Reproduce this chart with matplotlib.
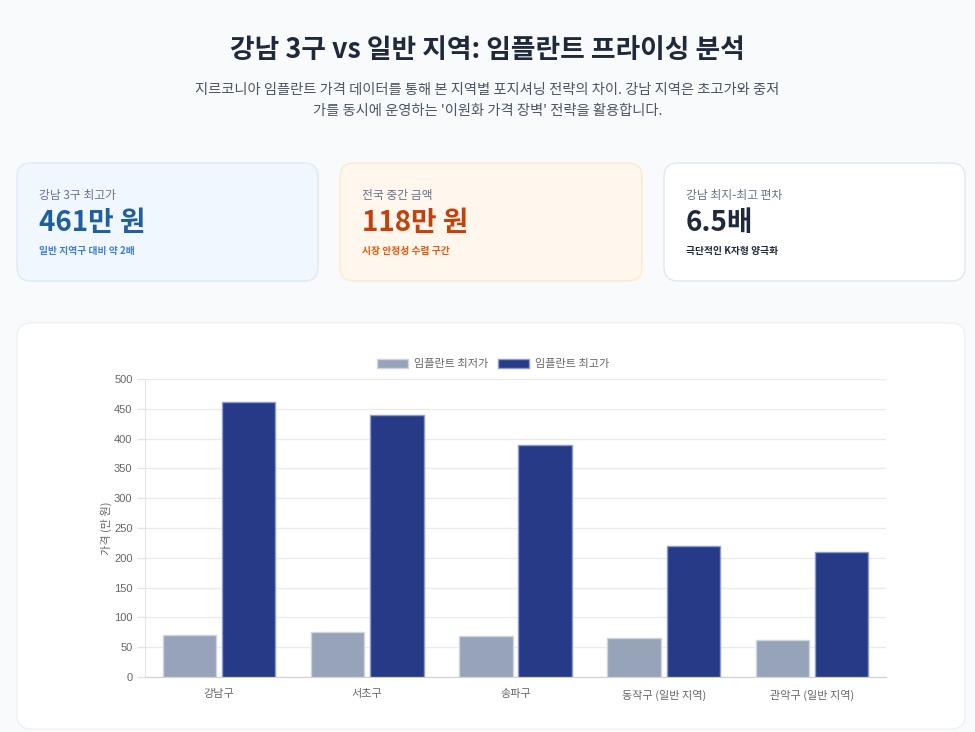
import matplotlib
matplotlib.use("Agg")
import matplotlib.pyplot as plt
import numpy as np
from matplotlib.patches import FancyBboxPatch

plt.rcParams['font.family'] = ['Noto Sans CJK KR', 'DejaVu Sans']

# data
districts = ['강남구', '서초구', '송파구', '동작구 (일반 지역)', '관악구 (일반 지역)']
price_min = [70, 75, 68, 65, 62]
price_max = [461, 440, 390, 220, 210]
series_names = ['임플란트 최저가', '임플란트 최고가']
y_ticks = [0, 50, 100, 150, 200, 250, 300, 350, 400, 450, 500]

title = '강남 3구 vs 일반 지역: 임플란트 프라이싱 분석'
subtitle = ['지르코니아 임플란트 가격 데이터를 통해 본 지역별 포지셔닝 전략의 차이. 강남 지역은 초고가와 중저',
            "가를 동시에 운영하는 '이원화 가격 장벽' 전략을 활용합니다."]
cards = [
    ('강남 3구 최고가', '461만 원', '일반 지역구 대비 약 2배'),
    ('전국 중간 금액', '118만 원', '시장 안정성 수렴 구간'),
    ('강남 최지-최고 편차', '6.5배', '극단적인 K자형 양극화'),
]

W, H = 975, 732
fig = plt.figure(figsize=(W / 100, H / 100), dpi=100, facecolor='#f8fafc')


def fy(y):
    return 1 - y / H


def fx(x):
    return x / W


def box(x0, y0, x1, y1, fc, ec, r=14):
    p = FancyBboxPatch((fx(x0), fy(y1)), fx(x1 - x0), (y1 - y0) / H,
                       boxstyle="round,pad=0,rounding_size=%f" % (r / W),
                       transform=fig.transFigure, facecolor=fc, edgecolor=ec,
                       linewidth=1, zorder=-1, mutation_aspect=W / H)
    fig.patches.append(p)


fig.text(0.5, fy(50), title, ha='center', va='center', fontsize=19.3,
         fontweight='heavy', color='#1e293b')
fig.text(0.5, fy(90), subtitle[0], ha='center', va='center', fontsize=10.3, color='#4b5563')
fig.text(0.5, fy(111), subtitle[1], ha='center', va='center', fontsize=10.3, color='#4b5563')

card_x = [(17, 318), (340, 642), (664, 965)]
card_fc = ['#f0f7ff', '#fff7ed', '#ffffff']
card_ec = ['#dbeafe', '#fde9cf', '#e2e8f0']
value_c = ['#1f5f9e', '#c2410c', '#1e293b']
sub_c = ['#3b7dd8', '#ea580c', '#1e293b']
for (x0, x1), fc, ec, vc, sc, (lab, val, sub) in zip(card_x, card_fc, card_ec, value_c, sub_c, cards):
    box(x0, 163, x1, 281, fc, ec)
    tx = x0 + 22
    fig.text(fx(tx), fy(195), lab, ha='left', va='center', fontsize=8.5, color='#64748b')
    fig.text(fx(tx), fy(223), val, ha='left', va='center', fontsize=20,
             fontweight='heavy', color=vc)
    fig.text(fx(tx), fy(251), sub, ha='left', va='center', fontsize=7,
             fontweight='bold', color=sc)

# chart card
box(17, 323, 965, 729, '#ffffff', '#eef1f5')

ax_l, ax_r, ax_t, ax_b = 145, 886, 379, 677
ax = fig.add_axes([fx(ax_l), fy(ax_b), fx(ax_r - ax_l), (ax_b - ax_t) / H])
ax.set_zorder(2)
ax.set_facecolor('none')

x = np.arange(len(districts))
ax.bar(x - 0.2, price_min, 0.36, color='#97a3b9', edgecolor='#cdd5e0',
       linewidth=1, label=series_names[0], zorder=3)
ax.bar(x + 0.2, price_max, 0.36, color='#263a87', edgecolor='#8e9bd3',
       linewidth=1, label=series_names[1], zorder=3)

ax.set_xlim(-0.5, len(districts) - 0.5)
ax.set_ylim(0, 500)
ax.set_yticks(y_ticks)
ax.set_xticks(x)
ax.set_xticklabels(districts)
tick_font = ['Liberation Sans', 'Noto Sans CJK KR']
for t in ax.get_yticklabels():
    t.set_family(tick_font)
for t in ax.get_xticklabels():
    t.set_family(['Noto Sans CJK KR', 'DejaVu Sans'])
ax.tick_params(axis='y', colors='#e5e5e5', labelcolor='#666666', labelsize=8,
               length=6, width=1, pad=3)
ax.tick_params(axis='x', length=0, labelcolor='#666666', labelsize=8, pad=9)
ax.grid(axis='y', color='#ebebeb', linewidth=1, zorder=0)
for s in ['top', 'right']:
    ax.spines[s].set_visible(False)
ax.spines['left'].set_color('#e5e5e5')
ax.spines['bottom'].set_color('#d0d0d0')

ax.set_ylabel('가격 (만 원)', fontsize=8, color='#666666', labelpad=1.5)

leg = ax.legend(loc='center', bbox_to_anchor=(0.47, 1 + 15 / (ax_b - ax_t)), ncol=2,
                frameon=False, fontsize=8, handlelength=2.8, handleheight=0.9,
                columnspacing=0.9, handletextpad=0.5)
for t in leg.get_texts():
    t.set_color('#666666')

fig.savefig('out.png', dpi=100, facecolor=fig.get_facecolor())
